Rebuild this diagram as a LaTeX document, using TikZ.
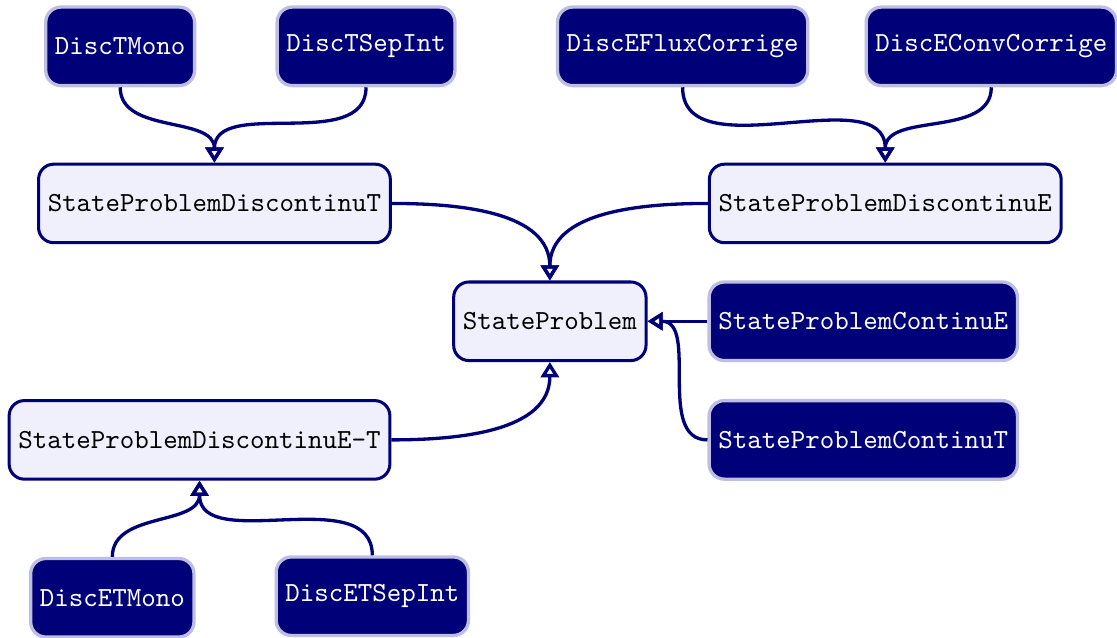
\documentclass[tikz,border=0pt]{standalone}
\usepackage[dvipsnames,rgb]{xcolor}
\usepackage{tikz}
\usetikzlibrary{arrows.meta}
\definecolor{classfill}{RGB}{0,0,120}
\definecolor{classrim}{RGB}{190,190,228}
\definecolor{basefill}{RGB}{240,240,252}
\tikzset{every picture/.style={/utils/exec={\ttfamily}}}

\begin{document}
\begin{tikzpicture}[line width=1.2pt, >={Triangle[open, length=5.5pt, width=6.5pt]},
    derived/.style={rectangle, rounded corners=5.5pt, fill=classfill, draw=classrim, line width=1.2pt, text=white, minimum height=1.0cm},
    basecls/.style={rectangle, rounded corners=5.5pt, fill=basefill, draw=classfill, line width=1.1pt, text=black, minimum height=1.0cm},
    inherit/.style={->, draw=classfill}]
        \useasboundingbox (-7.0, -4.02) rectangle (7.22, 4.09);

        % Nodes
        \node[basecls] (sp) at (0, 0) {StateProblem};
        \node[basecls] (spdt) at (-4.27, 1.5) {StateProblemDiscontinuT};
        \node[basecls] (spde) at (4.27, 1.5) {StateProblemDiscontinuE};
        \node[basecls] (spdet) at (-4.46, -1.51) {StateProblemDiscontinuE-T};
        \node[derived] (spce) at (3.99, 0) {StateProblemContinuE};
        \node[derived] (spct) at (3.99, -1.51) {StateProblemContinuT};

        \node[derived] (dtmono) at (-5.47, 3.5) {DiscTMono};
        \node[derived] (dtsep) at (-2.34, 3.5) {DiscTSepInt};
        \node[derived] (deflux) at (1.69, 3.5) {DiscEFluxCorrige};
        \node[derived] (deconv) at (5.62, 3.5) {DiscEConvCorrige};
        \node[derived] (detmono) at (-5.57, -3.52) {DiscETMono};
        \node[derived] (detsep) at (-2.26, -3.5) {DiscETSepInt};

        % Inheritance edges
        \draw[inherit] (dtmono.south) to[out=-90, in=90] (spdt.north);
        \draw[inherit] (dtsep.south) to[out=-90, in=90] (spdt.north);
        \draw[inherit] (deflux.south) to[out=-90, in=90] (spde.north);
        \draw[inherit] (deconv.south) to[out=-90, in=90] (spde.north);
        \draw[inherit] (detmono.north) to[out=90, in=-90] (spdet.south);
        \draw[inherit] (detsep.north) to[out=90, in=-90] (spdet.south);

        \draw[inherit] (spdt.east) to[out=0, in=90] (sp.north);
        \draw[inherit] (spde.west) to[out=180, in=90] (sp.north);
        \draw[inherit] (spdet.east) to[out=0, in=-90] (sp.south);
        \draw[inherit] (spce.west) -- (sp.east);
        \draw[inherit] (spct.west) to[out=180, in=0] (sp.east);
    \end{tikzpicture}
\end{document}
